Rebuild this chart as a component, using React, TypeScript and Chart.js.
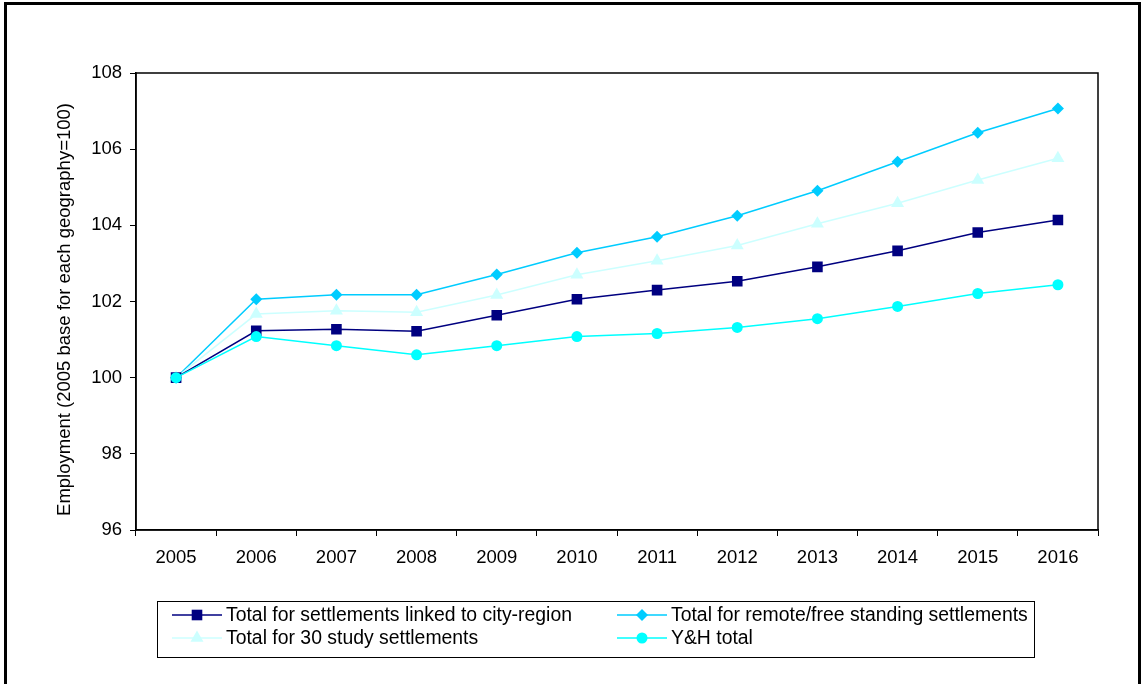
import React, { useEffect, useRef } from "react";
import { Chart, registerables } from "chart.js";

Chart.register(...registerables);

const years = ["2005", "2006", "2007", "2008", "2009", "2010", "2011", "2012", "2013", "2014", "2015", "2016"];
const linkedCityRegion = [100, 101.23, 101.27, 101.22, 101.64, 102.06, 102.3, 102.53, 102.91, 103.33, 103.81, 104.14];
const remoteFreeStanding = [100, 102.06, 102.18, 102.18, 102.71, 103.28, 103.7, 104.25, 104.91, 105.67, 106.43, 107.07];
const studySettlements = [100, 101.67, 101.76, 101.72, 102.17, 102.7, 103.07, 103.47, 104.04, 104.58, 105.19, 105.76];
const yhTotal = [100, 101.08, 100.84, 100.6, 100.84, 101.08, 101.16, 101.32, 101.55, 101.87, 102.21, 102.44];
const seriesNames = [
  "Total for settlements linked to city-region",
  "Total for remote/free standing settlements",
  "Total for 30 study settlements",
  "Y&H total",
];
const yTicks = [96, 98, 100, 102, 104, 106, 108];
const yTitle = "Employment (2005 base for each geography=100)";

const FONT = "'Liberation Sans', Arial, sans-serif";

function drawMarker(ctx: CanvasRenderingContext2D, style: string, r: number, x: number, y: number, color: string) {
  ctx.fillStyle = color;
  ctx.beginPath();
  if (style === "rect") {
    const s = Math.SQRT1_2 * r;
    ctx.rect(x - s, y - s, 2 * s, 2 * s);
  } else if (style === "rectRot") {
    ctx.moveTo(x, y - r);
    ctx.lineTo(x + r, y);
    ctx.lineTo(x, y + r);
    ctx.lineTo(x - r, y);
    ctx.closePath();
  } else if (style === "triangle") {
    const half = (r * Math.sqrt(3)) / 2;
    ctx.moveTo(x, y - r);
    ctx.lineTo(x + half, y + r / 2);
    ctx.lineTo(x - half, y + r / 2);
    ctx.closePath();
  } else {
    ctx.arc(x, y, r, 0, Math.PI * 2);
  }
  ctx.fill();
}

const frameAndLegend = {
  id: "frameAndLegend",
  afterDraw(chart: any) {
    const ctx = chart.ctx;
    const a = chart.chartArea;
    ctx.save();
    ctx.strokeStyle = "#000";
    ctx.lineWidth = 1.5;
    ctx.strokeRect(a.left, a.top, a.right - a.left, a.bottom - a.top);

    // y axis title
    ctx.save();
    ctx.translate(65, (a.top + a.bottom) / 2 + 8);
    ctx.rotate(-Math.PI / 2);
    ctx.fillStyle = "#000";
    ctx.font = `18.5px ${FONT}`;
    ctx.textAlign = "center";
    ctx.textBaseline = "middle";
    ctx.fillText(yTitle, 0, 0);
    ctx.restore();

    // legend
    ctx.lineWidth = 1;
    ctx.strokeStyle = "#000";
    ctx.strokeRect(157.5, 601.5, 877, 56);
    const cols = [172, 617];
    const rows = [615, 638];
    chart.data.datasets.forEach((ds: any, i: number) => {
      const x0 = cols[i % 2];
      const y = rows[Math.floor(i / 2)];
      ctx.strokeStyle = ds.borderColor;
      ctx.lineWidth = ds.borderWidth;
      ctx.beginPath();
      ctx.moveTo(x0, y);
      ctx.lineTo(x0 + 50, y);
      ctx.stroke();
      drawMarker(ctx, ds.pointStyle, ds.pointRadius, x0 + 25, y, ds.pointBackgroundColor);
      ctx.fillStyle = "#000";
      ctx.font = `19.4px ${FONT}`;
      ctx.textBaseline = "middle";
      ctx.textAlign = "left";
      ctx.fillText(ds.label, x0 + 54, y + 1);
    });
    ctx.restore();
  },
};

export default function App() {
  const ref = useRef<HTMLCanvasElement>(null);
  useEffect(() => {
    document.body.style.margin = "0";
    const mk = (label: string, data: number[], color: string, style: string, radius: number, order: number) => ({
      label,
      data,
      borderColor: color,
      backgroundColor: color,
      pointBackgroundColor: color,
      pointBorderColor: color,
      pointBorderWidth: 0,
      pointStyle: style,
      pointRadius: radius,
      borderWidth: 1.5,
      tension: 0,
      order,
    });
    const chart = new Chart(ref.current!, {
      type: "line",
      data: {
        labels: years,
        datasets: [
          mk(seriesNames[0], linkedCityRegion, "#000080", "rect", 7.5, 1),
          mk(seriesNames[1], remoteFreeStanding, "#00CCFF", "rectRot", 6, 3),
          mk(seriesNames[2], studySettlements, "#CCFFFF", "triangle", 7.5, 2),
          mk(seriesNames[3], yhTotal, "#00FFFF", "circle", 5.5, 0),
        ],
      },
      plugins: [frameAndLegend],
      options: {
        animation: false,
        responsive: false,
        layout: { padding: { top: 73, right: 45, left: 0, bottom: 0 } },
        plugins: { legend: { display: false }, tooltip: { enabled: false } },
        scales: {
          x: {
            type: "category",
            offset: true,
            grid: { offset: true, drawOnChartArea: false, tickLength: 6, color: "#000", tickColor: "#000" },
            border: { color: "#000", width: 1.5 },
            ticks: { color: "#000", font: { family: FONT, size: 18.5 }, padding: 11, maxRotation: 0 },
            afterFit: (s: any) => { s.height = 684 - 530; },
          },
          y: {
            min: 96,
            max: 108,
            afterBuildTicks: (s: any) => { s.ticks = yTicks.map((v) => ({ value: v })); },
            grid: { drawOnChartArea: false, tickLength: 6, color: "#000", tickColor: "#000" },
            border: { color: "#000", width: 1.5 },
            ticks: { color: "#000", font: { family: FONT, size: 18.5 }, padding: 8 },
            afterFit: (s: any) => { s.width = 136; },
          },
        },
      },
    });
    return () => chart.destroy();
  }, []);
  return (
    <div style={{ position: "relative", width: 1143, height: 684, overflow: "hidden", background: "#fff" }}>
      <div style={{ position: "absolute", left: 4, top: 2, width: 1131, height: 700, border: "3px solid #000" }} />
      <canvas ref={ref} width={1143} height={684} style={{ position: "absolute", left: 0, top: 0, width: 1143, height: 684 }} />
    </div>
  );
}
